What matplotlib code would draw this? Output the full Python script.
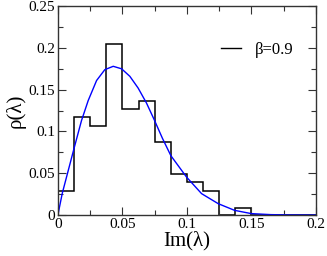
import matplotlib.pyplot as plt
import numpy as np
from matplotlib.ticker import MultipleLocator

plt.rcParams['font.family'] = ['Liberation Serif', 'DejaVu Serif']

# histogram (bin width 0.0125)
edges = np.arange(0, 0.2001, 0.0125)
heights = [0.029, 0.117, 0.107, 0.205, 0.127, 0.137, 0.087, 0.049,
           0.039, 0.029, 0.0, 0.009, 0.0, 0.0, 0.0, 0.0]

# blue curve
cx = [0, 0.0034, 0.0124, 0.0183, 0.0235, 0.030, 0.0364, 0.0429, 0.0494,
      0.0558, 0.0622, 0.0687, 0.0747, 0.081, 0.0876, 0.0997, 0.1114, 0.1243,
      0.137, 0.150, 0.165, 0.18, 0.2]
cy = [0, 0.026, 0.079, 0.113, 0.137, 0.161, 0.174, 0.178, 0.175, 0.166,
      0.152, 0.134, 0.114, 0.092, 0.071, 0.0455, 0.0256, 0.0136, 0.0056,
      0.0017, 0.0005, 0.0001, 0.0]

fig = plt.figure(figsize=(3.27, 2.56), dpi=100)
ax = fig.add_axes([0.177, 0.160, 0.789, 0.816])

ax.stairs(heights, edges, color='black', linewidth=1.1)
ax.plot(cx, cy, color='#0000ff', linewidth=1.0)

ax.set_xlim(0, 0.2)
ax.set_ylim(0, 0.25)
ax.set_xticks([0, 0.05, 0.1, 0.15, 0.2])
ax.set_xticklabels(['0', '0.05', '0.1', '0.15', '0.2'])
ax.set_yticks([0, 0.05, 0.1, 0.15, 0.2, 0.25])
ax.set_yticklabels(['0', '0.05', '0.1', '0.15', '0.2', '0.25'])
ax.xaxis.set_minor_locator(MultipleLocator(0.025))
ax.yaxis.set_minor_locator(MultipleLocator(0.025))
ax.tick_params(which='both', direction='in', top=True, right=True,
               labelsize=11, width=0.8, color='#333333')
ax.tick_params(which='major', length=6, pad=2)
ax.tick_params(which='minor', length=3.5)
for s in ax.spines.values():
    s.set_color('#333333')
    s.set_linewidth(1.0)

ax.set_xlabel('Im(λ)', fontsize=15, labelpad=0)
ax.set_ylabel('ρ(λ)', fontsize=15, labelpad=2)

ax.legend([plt.Line2D([], [], color='black', linewidth=1.0)], ['β=0.9'],
          loc='upper right', frameon=False, fontsize=12, handlelength=1.2,
          handletextpad=0.8, bbox_to_anchor=(0.97, 0.9))

fig.savefig('out.png', dpi=100)
